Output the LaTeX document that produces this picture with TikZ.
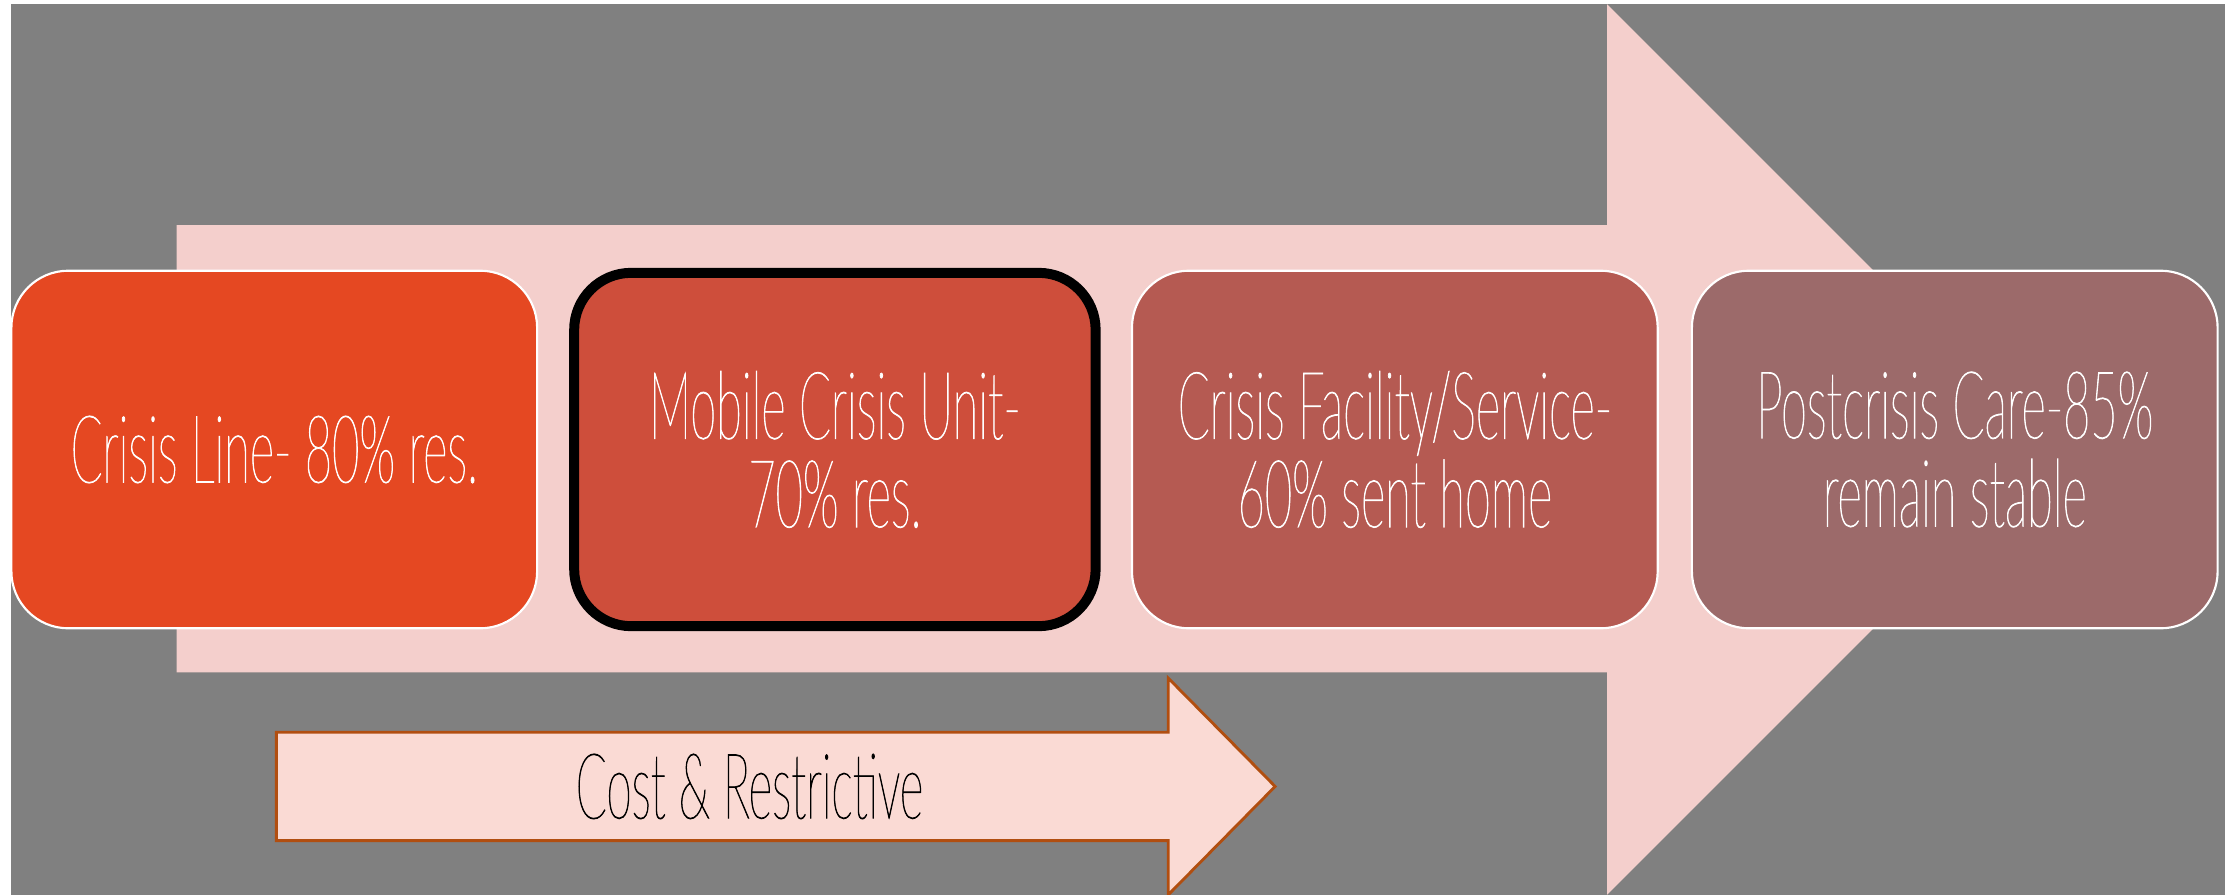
\documentclass[tikz,border=0pt]{standalone}
\usepackage{fontspec}
\newfontfamily\thinfont{Lato}[UprightFont={* Hairline}, FakeStretch=0.5, FakeBold=0.8]
\definecolor{bggray}{HTML}{808080}
\definecolor{bigpink}{HTML}{F4CFCC}
\definecolor{boxA}{HTML}{E54822}
\definecolor{boxB}{HTML}{CE4E3B}
\definecolor{boxC}{HTML}{B55A52}
\definecolor{boxD}{HTML}{9C6A6A}
\definecolor{smallfill}{HTML}{FADAD4}
\definecolor{smallline}{HTML}{B14E10}
\begin{document}
\begin{tikzpicture}[x=1pt,y=-1pt,
  stage/.style={rectangle, rounded corners=40pt, minimum width=369pt, minimum height=251pt,
    inner sep=0pt, align=center, text=white, draw=white, line width=1.5pt,
    font=\thinfont\fontsize{66}{62}\selectfont},
  stagebold/.style={stage, draw=black, line width=7pt, minimum width=366pt, minimum height=248pt},
  costlabel/.style={text=black, font=\thinfont\fontsize{64}{62}\selectfont, inner sep=0pt}]
\useasboundingbox (0,0) rectangle (1568,628);
\fill[white] (0,0) rectangle (1568,628);
\fill[bggray] (8,3) rectangle (1562,628);
% big arrow
\fill[bigpink] (124,158) -- (1128,158) -- (1128,3) -- (1440.5,315.5) -- (1128,628) -- (1128,472) -- (124,472) -- cycle;
% stages
\node[stage, fill=boxA] (s1) at (192.5,315.5) {Crisis Line- 80\% res.};
\node[stagebold, fill=boxB] (s2) at (586,315.5) {Mobile Crisis Unit-\\70\% res.};
\node[stage, fill=boxC] (s3) at (979,315.5) {Crisis Facility/Service-\\60\% sent home};
\node[stage, fill=boxD] (s4) at (1372,315.5) {Postcrisis Care-85\%\\remain stable};
% small arrow
\filldraw[fill=smallfill, draw=smallline, line width=2pt] (194,514) -- (820,514) -- (820,476) -- (895,552) -- (820,628) -- (820,590) -- (194,590) -- cycle;
\node[costlabel] (cost) at (526,552) {Cost \& Restrictive};
\end{tikzpicture}
\end{document}
